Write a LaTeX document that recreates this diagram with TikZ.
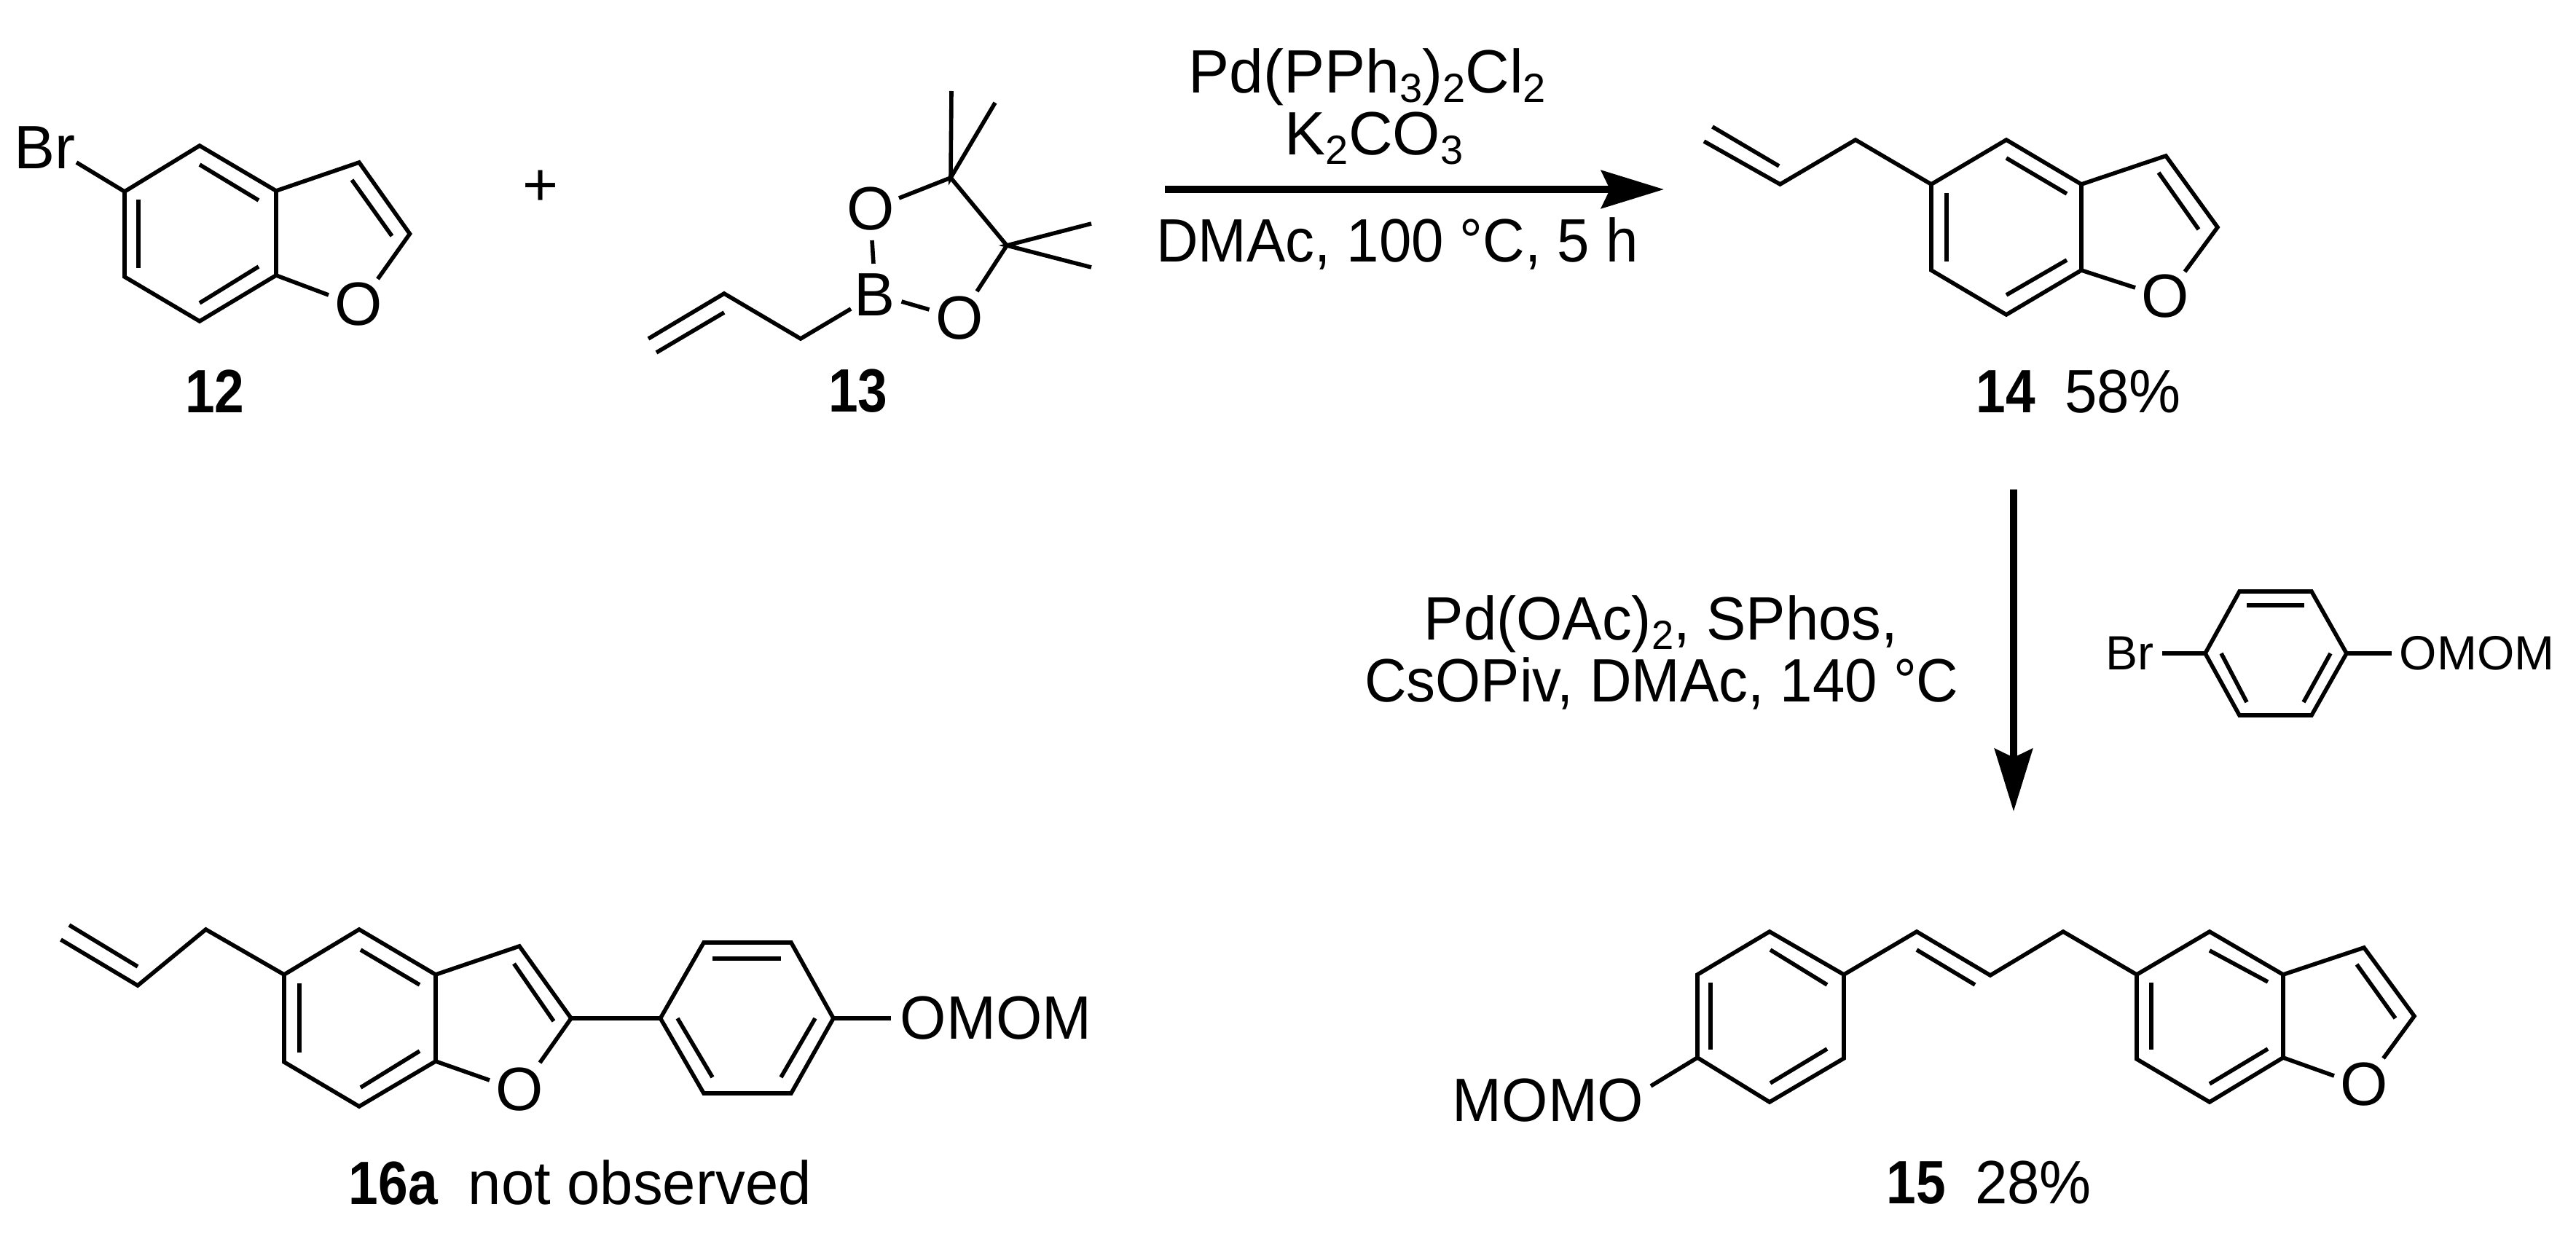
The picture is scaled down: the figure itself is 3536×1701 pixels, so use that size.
\documentclass[tikz,border=0pt]{standalone}
\usepackage{fontspec}
\setmainfont{Liberation Sans}
\newfontfamily\condf[FakeStretch=0.95]{Liberation Sans}
\newfontfamily\condg[FakeStretch=0.97]{Liberation Sans}
\newfontfamily\condb[FakeStretch=0.87]{Liberation Sans}
\usetikzlibrary{arrows.meta}
\newcommand{\sbs}[1]{\raisebox{-3.25pt}{\fontsize{14}{14}\selectfont #1}}
\newcommand{\cpd}[1]{{\condb\bfseries #1}}
\tikzset{
  x=0.25pt,y=-0.25pt,
  bond/.style={line width=1.4pt,line join=miter,line cap=butt,black},
  rxn/.style={line width=2.3pt,black,-{Stealth[length=21.5pt,width=13pt,inset=3pt]}},
  lab/.style={inner sep=0pt,anchor=base,font=\fontsize{21}{21}\selectfont},
  labw/.style={lab,anchor=base west,font=\condf\fontsize{21}{21}\selectfont},
  labg/.style={lab,anchor=base west,font=\condg\fontsize{21}{21}\selectfont},
  reag/.style={inner sep=0pt,anchor=base,font=\condf\fontsize{21}{21}\selectfont},
  reagg/.style={inner sep=0pt,anchor=base,font=\condg\fontsize{21}{21}\selectfont},
  reagp/.style={inner sep=0pt,anchor=base,font=\fontsize{21}{21}\selectfont},
  smalllab/.style={inner sep=0pt,anchor=base west,font=\fontsize{16.5}{16.5}\selectfont},
}
\begin{document}
\begin{tikzpicture}
\useasboundingbox (0,0) rectangle (3536,1701);
\fill[white] (0,0) rectangle (3536,1701);

% ---- compound 12
\node[lab,anchor=base west] (br12) at (19,232) {Br};
\node[lab] (o12) at (492,446) {O};
\node[lab] (n12) at (295,566) {\cpd{12}};
\draw[bond] (105,223) -- (171,263);
\draw[bond] (171,263) -- (274,200) -- (379,262) -- (379,378) -- (274,441) -- (171,380) -- cycle;
\draw[bond] (379,262) -- (493,223) -- (562.5,321) -- (518.5,383);
\draw[bond] (379,378) -- (451,405);
\draw[bond] (274,226) -- (355,275);
\draw[bond] (190,274) -- (190,368);
\draw[bond] (274,416) -- (355,366);
\draw[bond] (483,247) -- (538,324);

% ---- plus
\node[lab] (plus) at (742,282) {+};

% ---- compound 13
\node[lab] (b13) at (1201,433) {B};
\node[lab] (o13a) at (1195,316) {O};
\node[lab] (o13b) at (1317,466) {O};
\node[lab] (n13) at (1178,565) {\cpd{13}};
\draw[bond] (890,465) -- (994,403) -- (1099,465) -- (1168,424);
\draw[bond] (901,484) -- (994,429);
\draw[bond] (1197,330) -- (1199,362);
\draw[bond] (1237.5,414) -- (1275.5,425);
\draw[bond] (1234,272) -- (1305,244) -- (1382,337) -- (1341,400);
\draw[bond] (1306,125) -- (1305,244) -- (1366,141);
\draw[bond] (1498,307) -- (1382,337) -- (1498,367);

% ---- first arrow
\coordinate (a1s) at (1599,260);
\coordinate (a1e) at (2284,260);
\draw[rxn] (a1s) -- (a1e);
\node[reagp] (r1a) at (1877,128) {Pd(PPh\sbs{3})\sbs{2}Cl\sbs{2}};
\node[reagp] (r1b) at (1886,213) {K\sbs{2}CO\sbs{3}};
\node[reag] (r1c) at (1918,360) {DMAc, 100 °C, 5 h};

% ---- compound 14
\node[lab] (o14) at (2972,436) {O};
\node[labw] (n14) at (2712,566) {\cpd{14}\hspace{10pt}58\%};
\draw[bond] (2339,194) -- (2443.5,253) -- (2547,192) -- (2651,253);
\draw[bond] (2350.5,174) -- (2442,228);
\draw[bond] (2651,253) -- (2754,192) -- (2857,253) -- (2857,371) -- (2754,432) -- (2651,371) -- cycle;
\draw[bond] (2857,253) -- (2973,214) -- (3044,312) -- (2999,373);
\draw[bond] (2857,371) -- (2931,395);
\draw[bond] (2754,217) -- (2837,266);
\draw[bond] (2672,265) -- (2672,359);
\draw[bond] (2754,405) -- (2837,357);
\draw[bond] (2963,237) -- (3018,315);

% ---- second arrow
\coordinate (a2s) at (2764,672);
\coordinate (a2e) at (2764,1114);
\draw[rxn] (a2s) -- (a2e);
\node[reagg] (r2a) at (2280,878) {Pd(OAc)\sbs{2}, SPhos,};
\node[reag] (r2b) at (2281,963) {CsOPiv, DMAc, 140 °C};

% ---- aryl bromide
\node[smalllab] (br2) at (2890,919) {Br};
\node[smalllab] (omom2) at (3293,919) {OMOM};
\draw[bond] (2968,897) -- (3027,897);
\draw[bond] (3221,897) -- (3283,897);
\draw[bond] (3027,897) -- (3074,812) -- (3173,812) -- (3221,897) -- (3173,982) -- (3074,982) -- cycle;
\draw[bond] (3084,831) -- (3163,831);
\draw[bond] (3049,897) -- (3084,964);
\draw[bond] (3199,897) -- (3162,964);

% ---- compound 16a
\node[lab] (o16) at (713,1524) {O};
\node[labg] (omom16) at (1235,1426) {OMOM};
\node[labw] (n16) at (478,1653) {\cpd{16a}\hspace{10.5pt}{\condg not observed}};
\draw[bond] (83.5,1290) -- (189,1353) -- (282.5,1276) -- (390,1338);
\draw[bond] (95,1270) -- (189,1327);
\draw[bond] (390,1338) -- (493,1276) -- (598,1338) -- (598,1457) -- (493,1519) -- (390,1458) -- cycle;
\draw[bond] (598,1338) -- (713,1299) -- (784,1398) -- (741,1459);
\draw[bond] (598,1457) -- (672,1483);
\draw[bond] (495,1304) -- (576,1352);
\draw[bond] (411,1350) -- (411,1445);
\draw[bond] (495,1493) -- (576,1443);
\draw[bond] (705.5,1323) -- (760,1402);
\draw[bond] (784,1398) -- (906.5,1398);
\draw[bond] (906.5,1398) -- (966,1294) -- (1086,1294) -- (1144,1398) -- (1086,1501) -- (966,1501) -- cycle;
\draw[bond] (978,1316) -- (1072,1316);
\draw[bond] (930,1398) -- (978,1479);
\draw[bond] (1119,1398) -- (1072,1479);
\draw[bond] (1144,1398) -- (1223,1398);

% ---- compound 15
\node[labg] (momo15) at (1993,1539) {MOMO};
\node[lab] (o15) at (3245,1517) {O};
\node[labw] (n15) at (2589,1652) {\cpd{15}\hspace{10pt}28\%};
\draw[bond] (2266,1491) -- (2330,1452);
\draw[bond] (2330,1338) -- (2429,1279) -- (2531,1338) -- (2531,1453) -- (2429,1513) -- (2330,1452) -- cycle;
\draw[bond] (2430,1304) -- (2508,1352);
\draw[bond] (2348,1349) -- (2348,1441);
\draw[bond] (2430,1487) -- (2508,1440);
\draw[bond] (2531,1338) -- (2631,1279) -- (2732,1339) -- (2832,1279) -- (2933,1338);
\draw[bond] (2631,1304) -- (2711,1352);
\draw[bond] (2933,1338) -- (3033,1279) -- (3134,1338) -- (3134,1452) -- (3033,1513) -- (2933,1454) -- cycle;
\draw[bond] (3033,1305) -- (3113,1348);
\draw[bond] (2953,1349) -- (2953,1441);
\draw[bond] (3033,1488) -- (3113,1440);
\draw[bond] (3134,1338) -- (3245,1301) -- (3314,1395) -- (3271.5,1453);
\draw[bond] (3134,1452) -- (3204,1477);
\draw[bond] (3235,1324) -- (3288,1398);
\end{tikzpicture}
\end{document}
